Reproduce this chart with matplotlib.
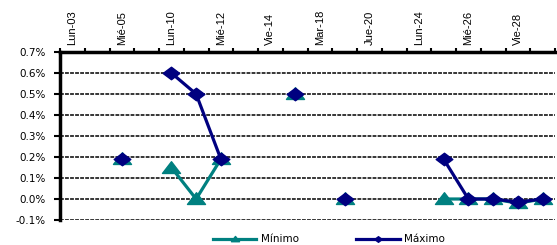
import matplotlib
matplotlib.use("Agg")
import matplotlib.pyplot as plt
import numpy as np
from matplotlib.path import Path

plt.rcParams['font.family'] = ['Liberation Sans', 'DejaVu Sans']

categories = ["Lun-03", "Mar-04", "Mié-05", "Jue-06", "Lun-10", "Mar-11", "Mié-12", "Jue-13",
              "Vie-14", "Lun-17", "Mar-18", "Mié-19", "Jue-20", "Vie-21", "Lun-24", "Mar-25",
              "Mié-26", "Jue-27", "Vie-28", "Lun-31"]
# shown labels (every other category)
shown = [True, False] * 10

nan = np.nan
minimo = [nan, nan, 0.19, nan, 0.15, 0.0, 0.19, nan, nan, 0.5, nan, 0.0, nan, nan, nan, 0.0,
          0.0, 0.0, -0.02, 0.0]
maximo = [nan, nan, 0.19, nan, 0.6, 0.5, 0.19, nan, nan, 0.5, nan, 0.0, nan, nan, nan, 0.19,
          0.0, 0.0, -0.015, 0.0]

diamond = Path([(-1, 0), (0, 0.75), (1, 0), (0, -0.75), (-1, 0)],
               [Path.MOVETO, Path.LINETO, Path.LINETO, Path.LINETO, Path.CLOSEPOLY])
triangle = Path([(-1, -0.55), (1, -0.55), (0, 0.75), (-1, -0.55)],
                [Path.MOVETO, Path.LINETO, Path.LINETO, Path.CLOSEPOLY])

fig = plt.figure(figsize=(5.57, 2.45), dpi=100)
W, H = 557, 245
ax = fig.add_axes([60 / W, (H - 220) / H, (555 - 60) / W, (220 - 52) / H])

x = np.arange(len(categories))
ax.plot(x, minimo, color='#008080', lw=2.3, marker=triangle, markersize=13,
        markerfacecolor='#008080', markeredgecolor='#008080', label='Mínimo', zorder=3)
ax.plot(x, maximo, color='#000080', lw=2.3, marker=diamond, markersize=12,
        markerfacecolor='#000080', markeredgecolor='#000080', label='Máximo', zorder=4)

ax.set_xlim(-0.5, len(categories) - 0.5)
ax.set_ylim(-0.1, 0.7)
yt = np.round(np.arange(-0.1, 0.71, 0.1), 1)
ax.set_yticks(yt)
ax.set_yticklabels([f"{v:.1f}%" for v in yt], fontsize=7.5, family='DejaVu Sans')

ax.xaxis.tick_top()
ax.set_xticks(x)
ax.set_xticklabels([c if s else "" for c, s in zip(categories, shown)],
                   rotation=90, fontsize=8)
ax.set_xticks(np.arange(-0.5, len(categories)), minor=True)
ax.tick_params(axis='x', which='major', length=0, pad=5, top=True, bottom=False)
ax.tick_params(axis='x', which='minor', length=3, width=1.5, direction='out', top=True, bottom=False)
ax.tick_params(axis='y', which='major', length=4, width=1.5, direction='out', pad=6)

for v in yt[:-1]:
    ax.axhline(v, color='black', lw=1.1, ls=(0, (2.5, 0.8)), zorder=1)

for s in ['right', 'bottom']:
    ax.spines[s].set_visible(False)
ax.spines['left'].set_linewidth(2.5)
ax.spines['top'].set_linewidth(2.5)

leg = fig.legend(loc='lower center', bbox_to_anchor=(0.59, -0.035), ncol=2, frameon=False,
                 prop={'family': 'DejaVu Sans', 'size': 7.5}, handlelength=4.2,
                 columnspacing=5.5, markerscale=0.45, handletextpad=0.4)

fig.savefig("out.png", dpi=100)
